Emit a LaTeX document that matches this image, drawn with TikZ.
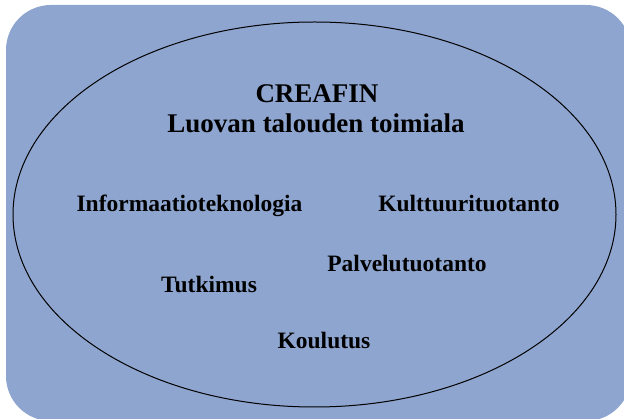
\documentclass[tikz,border=0pt]{standalone}
\usepackage{fontspec}
\setmainfont{Liberation Serif}
\definecolor{panelblue}{RGB}{142,165,207}
\tikzset{
  titletext/.style={anchor=base, inner sep=0pt, font=\bfseries\fontsize{27}{32}\selectfont},
  fieldtext/.style={anchor=base, inner sep=0pt, font=\bfseries\fontsize{23.5}{28}\selectfont},
}
\begin{document}
\begin{tikzpicture}[x=1pt,y=-1pt]
\useasboundingbox (0,0) rectangle (624,419);
\path[fill=panelblue, rounded corners=45pt] (6,5) rectangle (631,421);
\draw[black, line width=1pt] (314.5,214.5) ellipse [x radius=301.5, y radius=192.5];
\node[titletext] (t1) at (317,103) {CREAFIN};
\node[titletext] (t2) at (316,133) {Luovan talouden toimiala};
\node[fieldtext] (it) at (189.5,212) {Informaatioteknologia};
\node[fieldtext] (kt) at (469,212) {Kulttuurituotanto};
\node[fieldtext] (pt) at (407,272) {Palvelutuotanto};
\node[fieldtext] (tu) at (209,293) {Tutkimus};
\node[fieldtext] (ko) at (324,349) {Koulutus};
\end{tikzpicture}
\end{document}
